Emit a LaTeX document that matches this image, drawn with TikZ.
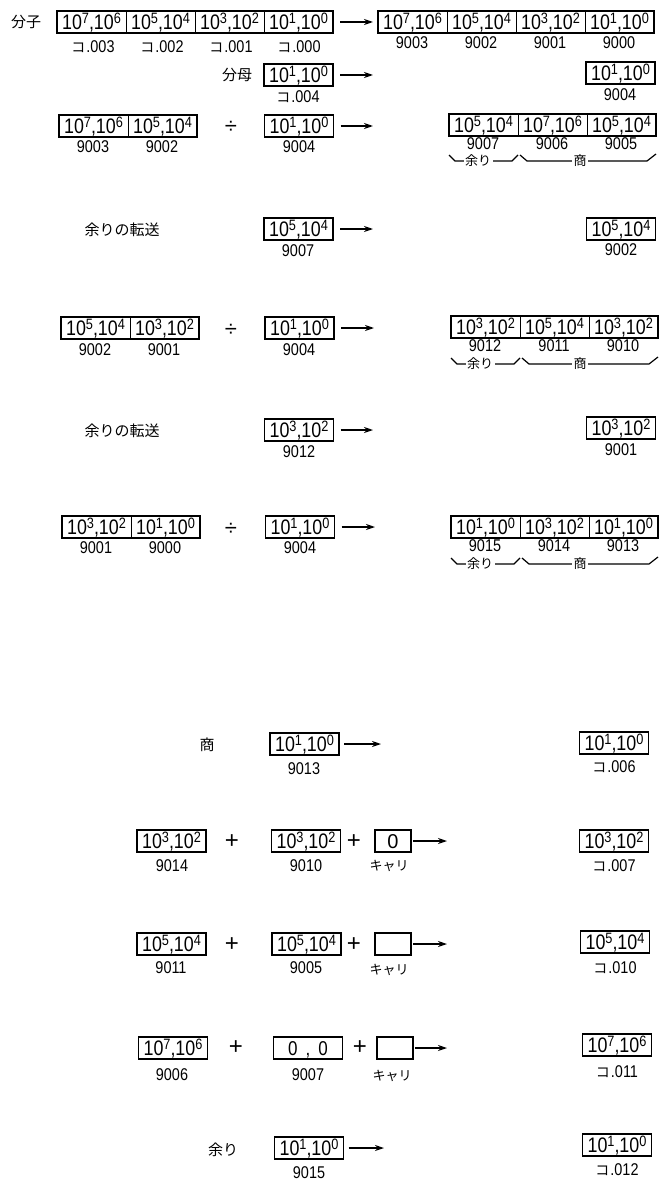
\documentclass[tikz,border=0pt]{standalone}
\usepackage{fontspec}
\setmainfont{Liberation Sans}
\newfontfamily\condf[FakeStretch=0.85]{Liberation Sans}
\newfontfamily\jpf{Noto Sans CJK JP}
\usetikzlibrary{arrows.meta}
\newcommand\bxf{\condf\fontsize{21}{21}\selectfont}
\newcommand\lbf{\condf\fontsize{17}{17}\selectfont}
\newcommand\jpm{\jpf\fontsize{15}{15}\selectfont}
\newcommand\jps{\jpf\fontsize{13}{13}\selectfont}
\newcommand\jpk{\jpf\fontsize{13}{13}\selectfont}
\newcommand\opf{\fontsize{24}{24}\selectfont}
\newcommand\dvf{\fontsize{22}{22}\selectfont}
\newcommand\sups[1]{\raisebox{6pt}{\fontsize{15}{15}\selectfont #1}}
\newcommand\pw[2]{10\sups{#1},10\sups{#2}}
\newcommand\ko[1]{{\jpf\fontsize{14}{14}\selectfont コ}\hspace{1pt}#1}
\begin{document}
\begin{tikzpicture}[x=1pt,y=-1pt,
 cell/.style={draw, line width=0.9pt, minimum width=69pt, minimum height=22pt, inner sep=0pt, outer sep=0pt, font=\bxf, text height=15pt, text depth=0pt},
 small/.style={cell, minimum width=36pt, font=\fontsize{20}{20}\selectfont},
 grp/.style={draw, line width=1.6pt},
 lab/.style={font=\lbf, inner sep=0pt},
 jp/.style={font=\jpm, inner sep=0pt},
 jk/.style={font=\jpk, inner sep=0pt},
 op/.style={font=\opf, inner sep=0pt},
 dv/.style={font=\dvf, inner sep=0pt},
 arr/.style={line width=1.4pt, -{Stealth[length=9pt,width=6pt]}},
 brc/.style={line width=1.2pt},
 bl/.style={font=\jps, fill=white, inner xsep=1.5pt, inner ysep=0pt}]
\useasboundingbox[fill=white] (0,0) rectangle (667,1188);

% ---------- row 1 ----------
\node[jp] (fz) at (26,22) {分子};
\node[cell] (a1) at (91.5,22) {\pw{7}{6}};
\node[cell] (a2) at (160.5,22) {\pw{5}{4}};
\node[cell] (a3) at (229.5,22) {\pw{3}{2}};
\node[cell] (a4) at (298.5,22) {\pw{1}{0}};
\draw[grp] (a1.north west) rectangle (a4.south east);
\node[lab] (la1) at (93,47) {\ko{.003}};
\node[lab] (la2) at (162,47) {\ko{.002}};
\node[lab] (la3) at (231,47) {\ko{.001}};
\node[lab] (la4) at (299,47) {\ko{.000}};
\node[cell] (b1) at (412.5,22) {\pw{7}{6}};
\node[cell] (b2) at (481.5,22) {\pw{5}{4}};
\node[cell] (b3) at (550.5,22) {\pw{3}{2}};
\node[cell] (b4) at (619.5,22) {\pw{1}{0}};
\draw[grp] (b1.north west) rectangle (b4.south east);
\node[lab] (lb1) at (412,43) {9003};
\node[lab] (lb2) at (481,43) {9002};
\node[lab] (lb3) at (550,43) {9001};
\node[lab] (lb4) at (619,43) {9000};
\draw[arr, shorten <=7pt, shorten >=5pt] (a4.east) -- (b1.west);

% ---------- row 2 ----------
\node[jp] (fb) at (237,75) {分母};
\node[cell] (c1) at (298.5,75) {\pw{1}{0}};
\draw[grp] (c1.north west) rectangle (c1.south east);
\node[lab] (lc1) at (298,97) {\ko{.004}};
\coordinate (e2) at (373,75);
\draw[arr, shorten <=7pt] (c1.east) -- (e2);
\node[cell] (d1) at (620.5,73) {\pw{1}{0}};
\draw[grp] (d1.north west) rectangle (d1.south east);
\node[lab] (ld1) at (620,95) {9004};

% ---------- row 3 ----------
\node[cell] (g1) at (93.5,126) {\pw{7}{6}};
\node[cell] (g2) at (162.5,126) {\pw{5}{4}};
\draw[grp] (g1.north west) rectangle (g2.south east);
\node[lab] (lg1) at (93,147) {9003};
\node[lab] (lg2) at (162,147) {9002};
\node[dv] (dv3) at (231,127) {÷};
\node[cell] (h3) at (299,126) {\pw{1}{0}};
\draw[grp] (h3.north west) rectangle (h3.south east);
\node[lab] (lh3) at (299,147) {9004};
\coordinate (e3) at (373,126);
\draw[arr, shorten <=7pt] (h3.east) -- (e3);
\node[cell] (k1) at (483.5,125) {\pw{5}{4}};
\node[cell] (k2) at (552.5,125) {\pw{7}{6}};
\node[cell] (k3) at (621.5,125) {\pw{5}{4}};
\draw[grp] (k1.north west) rectangle (k3.south east);
\node[lab] (lk1) at (483,144) {9007};
\node[lab] (lk2) at (552,144) {9006};
\node[lab] (lk3) at (621,144) {9005};
\draw[brc] (449,155) -- (455,161) -- (512,161) -- (518,155);
\draw[brc] (520,155) -- (527,161) -- (647,161) -- (656,154);
\node[bl] (br3a) at (478,161) {余り};
\node[bl] (br3b) at (580,161) {商};

% ---------- row 4 ----------
\node[jp] (t4) at (122,230) {余りの転送};
\node[cell] (m4) at (298.5,229) {\pw{5}{4}};
\draw[grp] (m4.north west) rectangle (m4.south east);
\node[lab] (lm4) at (298,251) {9007};
\coordinate (e4) at (373,229);
\draw[arr, shorten <=7pt] (m4.east) -- (e4);
\node[cell] (n4) at (621,229) {\pw{5}{4}};
\draw[grp] (n4.north west) rectangle (n4.south east);
\node[lab] (ln4) at (621,250) {9002};

% ---------- row 5 ----------
\node[cell] (g5a) at (95.5,328) {\pw{5}{4}};
\node[cell] (g5b) at (164.5,328) {\pw{3}{2}};
\draw[grp] (g5a.north west) rectangle (g5b.south east);
\node[lab] (lg5a) at (95,350) {9002};
\node[lab] (lg5b) at (164,350) {9001};
\node[dv] (dv5) at (231,330) {÷};
\node[cell] (h5) at (299.5,328) {\pw{1}{0}};
\draw[grp] (h5.north west) rectangle (h5.south east);
\node[lab] (lh5) at (299,350) {9004};
\coordinate (e5) at (374,328);
\draw[arr, shorten <=7pt] (h5.east) -- (e5);
\node[cell] (k5a) at (485.5,327) {\pw{3}{2}};
\node[cell] (k5b) at (554.5,327) {\pw{5}{4}};
\node[cell] (k5c) at (623.5,327) {\pw{3}{2}};
\draw[grp] (k5a.north west) rectangle (k5c.south east);
\node[lab] (lk5a) at (485,346) {9012};
\node[lab] (lk5b) at (554,346) {9011};
\node[lab] (lk5c) at (623,346) {9010};
\draw[brc] (451,358) -- (457,364) -- (514,364) -- (520,358);
\draw[brc] (522,358) -- (529,364) -- (649,364) -- (658,357);
\node[bl] (br5a) at (480,364) {余り};
\node[bl] (br5b) at (580,364) {商};

% ---------- row 6 ----------
\node[jp] (t6) at (122,431) {余りの転送};
\node[cell] (m6) at (299,430) {\pw{3}{2}};
\draw[grp] (m6.north west) rectangle (m6.south east);
\node[lab] (lm6) at (299,452) {9012};
\coordinate (e6) at (373,430);
\draw[arr, shorten <=7pt] (m6.east) -- (e6);
\node[cell] (n6) at (621,428) {\pw{3}{2}};
\draw[grp] (n6.north west) rectangle (n6.south east);
\node[lab] (ln6) at (621,450) {9001};

% ---------- row 7 ----------
\node[cell] (g7a) at (96.5,527) {\pw{3}{2}};
\node[cell] (g7b) at (165.5,527) {\pw{1}{0}};
\draw[grp] (g7a.north west) rectangle (g7b.south east);
\node[lab] (lg7a) at (96,548) {9001};
\node[lab] (lg7b) at (165,548) {9000};
\node[dv] (dv7) at (231,529) {÷};
\node[cell] (h7) at (300,527) {\pw{1}{0}};
\draw[grp] (h7.north west) rectangle (h7.south east);
\node[lab] (lh7) at (300,548) {9004};
\coordinate (e7) at (375,527);
\draw[arr, shorten <=7pt] (h7.east) -- (e7);
\node[cell] (k7a) at (485.5,527) {\pw{1}{0}};
\node[cell] (k7b) at (554.5,527) {\pw{3}{2}};
\node[cell] (k7c) at (623.5,527) {\pw{1}{0}};
\draw[grp] (k7a.north west) rectangle (k7c.south east);
\node[lab] (lk7a) at (485,546) {9015};
\node[lab] (lk7b) at (554,546) {9014};
\node[lab] (lk7c) at (623,546) {9013};
\draw[brc] (451,558) -- (457,564) -- (514,564) -- (520,558);
\draw[brc] (522,558) -- (529,564) -- (649,564) -- (658,557);
\node[bl] (br7a) at (480,564) {余り};
\node[bl] (br7b) at (580,564) {商};

% ---------- row 8 ----------
\node[jp] (t8) at (207,745) {商};
\node[cell] (p8) at (304.5,744) {\pw{1}{0}};
\draw[grp] (p8.north west) rectangle (p8.south east);
\node[lab] (lp8) at (304,769) {9013};
\coordinate (e8) at (381,744);
\draw[arr, shorten <=5pt] (p8.east) -- (e8);
\node[cell] (q8) at (614,743) {\pw{1}{0}};
\draw[grp] (q8.north west) rectangle (q8.south east);
\node[lab] (lq8) at (614,767) {\ko{.006}};

% ---------- row 9 ----------
\node[cell] (s9) at (171.5,841) {\pw{3}{2}};
\draw[grp] (s9.north west) rectangle (s9.south east);
\node[lab] (ls9) at (172,866) {9014};
\node[op] (pl9a) at (232,842) {+};
\node[cell] (u9) at (306,841) {\pw{3}{2}};
\draw[grp] (u9.north west) rectangle (u9.south east);
\node[lab] (lu9) at (306,866) {9010};
\node[op] (pl9b) at (354,842) {+};
\node[small] (v9) at (393,841) {0};
\draw[grp] (v9.north west) rectangle (v9.south east);
\node[jk] (lv9) at (389,866) {キャリ};
\coordinate (e9) at (447,841);
\draw[arr, shorten <=2pt] (v9.east) -- (e9);
\node[cell] (q9) at (614,841) {\pw{3}{2}};
\draw[grp] (q9.north west) rectangle (q9.south east);
\node[lab] (lq9) at (614,866) {\ko{.007}};

% ---------- row 10 ----------
\node[cell] (s10) at (171.5,944) {\pw{5}{4}};
\draw[grp] (s10.north west) rectangle (s10.south east);
\node[lab] (ls10) at (171,968) {9011};
\node[op] (pl10a) at (232,945) {+};
\node[cell] (u10) at (306.5,944) {\pw{5}{4}};
\draw[grp] (u10.north west) rectangle (u10.south east);
\node[lab] (lu10) at (306,968) {9005};
\node[op] (pl10b) at (354,945) {+};
\node[small] (v10) at (393,944) {};
\draw[grp] (v10.north west) rectangle (v10.south east);
\node[jk] (lv10) at (389,970) {キャリ};
\coordinate (e10) at (447,944);
\draw[arr, shorten <=2pt] (v10.east) -- (e10);
\node[cell] (q10) at (615,942) {\pw{5}{4}};
\draw[grp] (q10.north west) rectangle (q10.south east);
\node[lab] (lq10) at (615,968) {\ko{.010}};

% ---------- row 11 ----------
\node[cell] (s11) at (173,1048) {\pw{7}{6}};
\draw[grp] (s11.north west) rectangle (s11.south east);
\node[lab] (ls11) at (172,1075) {9006};
\node[op] (pl11a) at (236,1048) {+};
\node[cell] (u11) at (308,1048) {\fontsize{20}{20}\selectfont 0\hspace{8pt},\hspace{8pt}0};
\draw[grp] (u11.north west) rectangle (u11.south east);
\node[lab] (lu11) at (308,1075) {9007};
\node[op] (pl11b) at (360,1048) {+};
\node[small] (v11) at (395,1048) {};
\draw[grp] (v11.north west) rectangle (v11.south east);
\node[jk] (lv11) at (392,1076) {キャリ};
\coordinate (e11) at (447,1048);
\draw[arr, shorten <=2pt] (v11.east) -- (e11);
\node[cell] (q11) at (617,1045) {\pw{7}{6}};
\draw[grp] (q11.north west) rectangle (q11.south east);
\node[lab] (lq11) at (617,1072) {\ko{.011}};

% ---------- row 12 ----------
\node[jp] (t12) at (223,1150) {余り};
\node[cell] (p12) at (309,1148) {\pw{1}{0}};
\draw[grp] (p12.north west) rectangle (p12.south east);
\node[lab] (lp12) at (309,1173) {9015};
\coordinate (e12) at (384,1148);
\draw[arr, shorten <=5pt] (p12.east) -- (e12);
\node[cell] (q12) at (617,1145) {\pw{1}{0}};
\draw[grp] (q12.north west) rectangle (q12.south east);
\node[lab] (lq12) at (617,1170) {\ko{.012}};
\end{tikzpicture}
\end{document}
